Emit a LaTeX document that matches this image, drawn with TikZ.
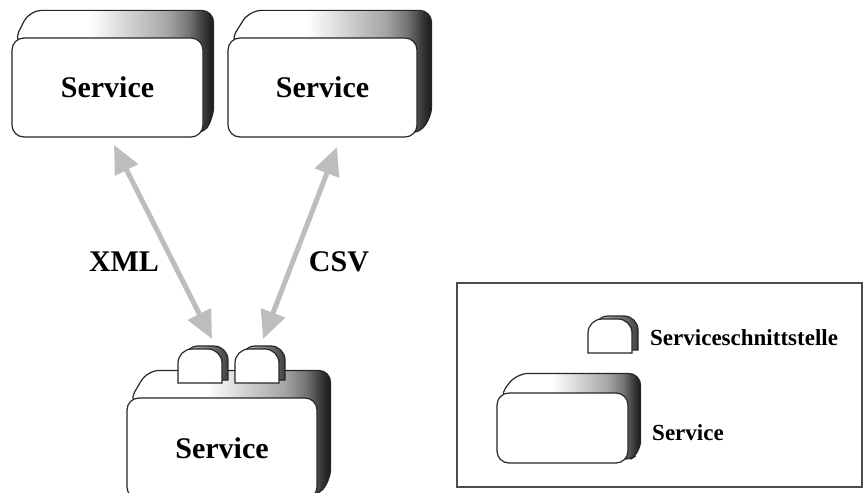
\documentclass[tikz,border=0pt]{standalone}
\usepackage{fontspec}
\setmainfont{Liberation Serif}
\usetikzlibrary{arrows.meta}
\pgfdeclarelayer{background}
\pgfsetlayers{background,main}

% light-to-dark shading of the extruded top and right side of a service block
\pgfdeclarehorizontalshading{svcside}{100bp}{color(0bp)=(white); color(25bp)=(white);
  color(44bp)=(white); color(63.5bp)=(black!35); color(69bp)=(black!55);
  color(73bp)=(black!80); color(75bp)=(black!90); color(100bp)=(black!90)}

% extruded back part of a service block: node name, x offset, y offset
\newcommand\svcback[3]{%
  \begin{pgfonlayer}{background}
    \path[svcback] ([shift={(2,5)}]#1.north west)
      -- ([shift={(#2+8,#3)}]#1.north west)
      -- ([shift={(#2,#3)}]#1.north east)
      -- ([shift={(#2,#3+8)}]#1.south east)
      -- ([shift={(-3,-1)}]#1.south east) -- cycle;
  \end{pgfonlayer}}

\tikzset{
  outline/.style={draw=black!85, line width=1.2pt},
  svcfront/.style={outline, fill=white, rounded corners=12pt, inner sep=0pt,
    font=\fontsize{30}{36}\selectfont\bfseries},
  svcback/.style={outline, rounded corners=12pt, shading=svcside},
  iffront/.style={outline, fill=white},
  ifshadow/.style={outline, left color=black!20, right color=black!75},
  flow/.style={draw=black!26, line width=5pt,
    {Triangle[length=28pt,width=25pt]}-{Triangle[length=28pt,width=25pt]}},
  lbl/.style={font=\fontsize{30}{36}\selectfont\bfseries, inner sep=0pt},
  legendlbl/.style={font=\fontsize{23}{28}\selectfont\bfseries, inner sep=0pt, anchor=west},
  legendbox/.style={draw=black!70, line width=1.3pt, inner sep=0pt},
  pics/iface/.style={code={
    \path[ifshadow, shift={(6,-3)}] (0,0) -- (0,-20)
      .. controls (0,-27.7) and (6.3,-34) .. (14,-34) -- (30,-34)
      .. controls (37.7,-34) and (44,-27.7) .. (44,-20) -- (44,0) -- cycle;
    \path[iffront] (0,0) -- (0,-20)
      .. controls (0,-27.7) and (6.3,-34) .. (14,-34) -- (30,-34)
      .. controls (37.7,-34) and (44,-27.7) .. (44,-20) -- (44,0) -- cycle;
  }}
}

\begin{document}
\begin{tikzpicture}[x=1pt, y=-1pt]
  \useasboundingbox (0,0) rectangle (866,492);

  % service blocks
  \node[svcfront, minimum width=191pt, minimum height=99pt] (s1) at (107.5,87.5) {Service};
  \node[svcfront, minimum width=189pt, minimum height=99pt] (s2) at (322.5,87.5) {Service};
  \node[svcfront, minimum width=190pt, minimum height=101pt] (s3) at (222,448.5) {Service};
  \svcback{s1}{10}{-27}
  \svcback{s2}{14}{-27}
  \svcback{s3}{13}{-27}

  % service interfaces on the lower block
  \pic (if1) at (178,383) {iface};
  \pic (if2) at (235,383) {iface};

  % message flows
  \coordinate (xmlA) at (114,145);
  \coordinate (xmlB) at (212,339);
  \coordinate (csvA) at (337,147);
  \coordinate (csvB) at (263,339);
  \draw[flow] (xmlA) -- (xmlB);
  \draw[flow] (csvA) -- (csvB);
  \node[lbl] (xml) at (124,262) {XML};
  \node[lbl] (csv) at (339,262) {CSV};

  % legend
  \node[legendbox, minimum width=405pt, minimum height=204pt] (legend) at (659.5,385) {};
  \pic (if3) at (588,353) {iface};
  \node[legendlbl] (lifc) at (650,338) {Serviceschnittstelle};
  \node[svcfront, minimum width=131pt, minimum height=70pt] (s4) at (562.5,428) {};
  \svcback{s4}{12}{-19}
  \node[legendlbl] (lsvc) at (652,433) {Service};
\end{tikzpicture}
\end{document}
